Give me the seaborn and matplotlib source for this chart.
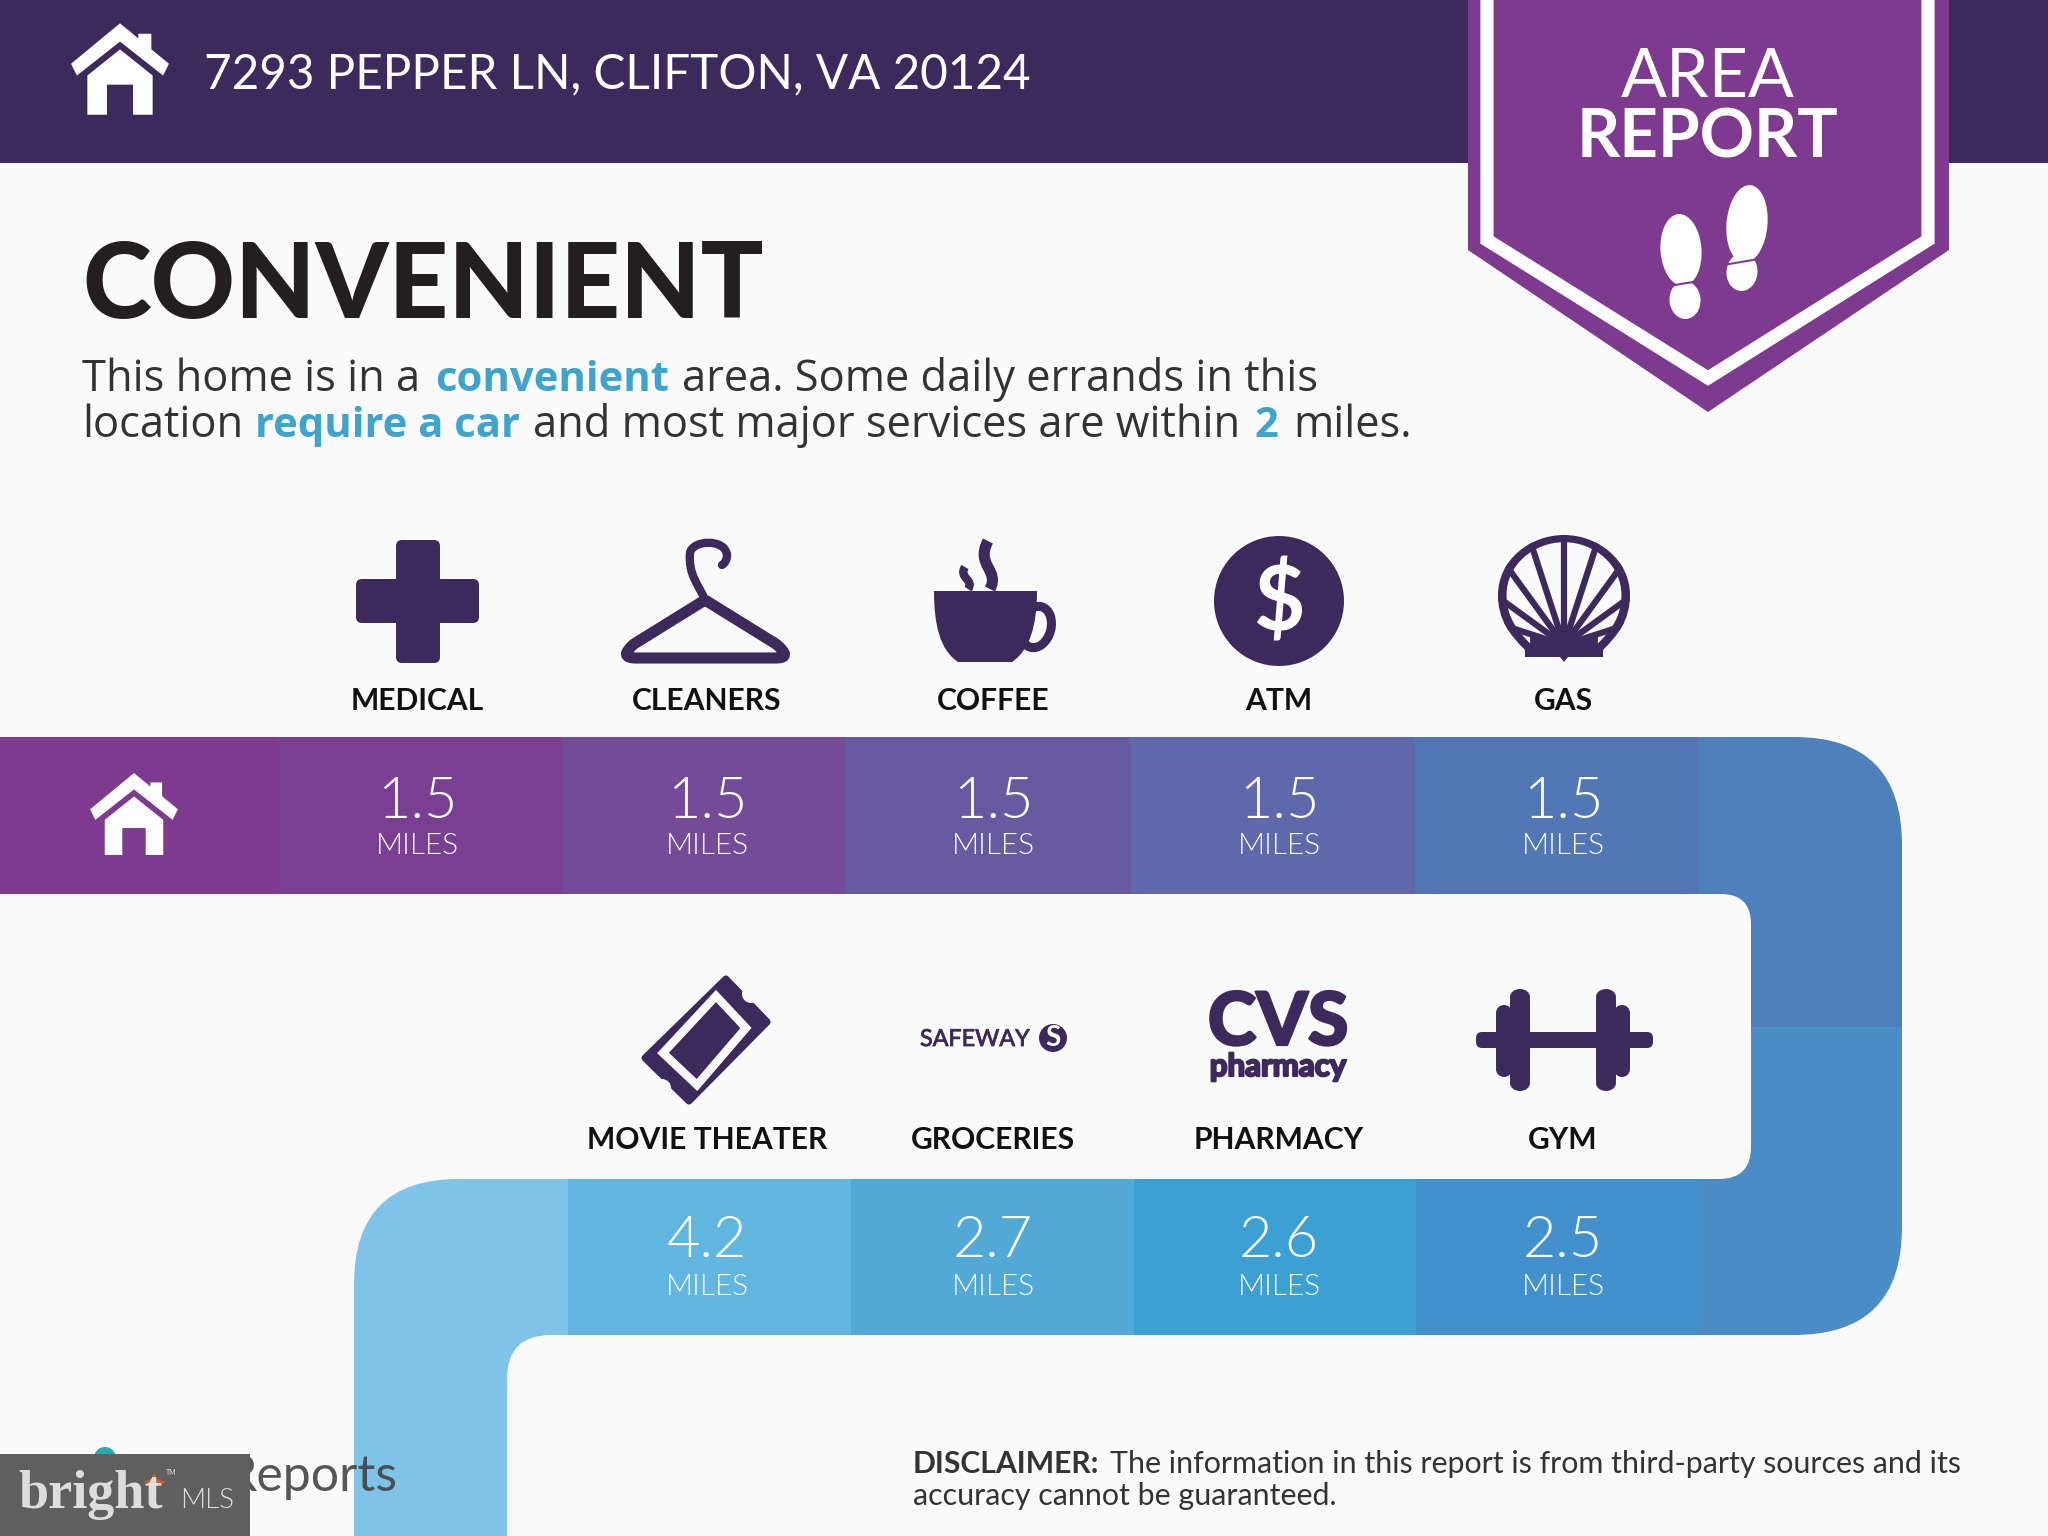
import numpy as np
import matplotlib
matplotlib.use("Agg")
import matplotlib.pyplot as plt
import matplotlib.patheffects as pe
import seaborn as sns
from matplotlib.colors import ListedColormap
from matplotlib.patches import Circle, Ellipse, FancyBboxPatch, PathPatch, Polygon, Rectangle
from matplotlib.path import Path

# --- chart data ---
top_labels = ["MEDICAL", "CLEANERS", "COFFEE", "ATM", "GAS"]
top_miles = [1.5, 1.5, 1.5, 1.5, 1.5]
top_colors = ["#7a3f92", "#744b99", "#675aa1", "#5f68ab", "#5177b5"]

bottom_labels = ["MOVIE THEATER", "GROCERIES", "PHARMACY", "GYM"]
bottom_miles = [4.2, 2.7, 2.6, 2.5]
bottom_colors = ["#61b6e0", "#52a9d6", "#3ca0d2", "#4391cc"]

# --- palette and layout, in reference pixels ---
W, H = 2048, 1536
BG = "#fafafa"
DARK = "#3c2a5c"
PURPLE = "#7d3a8e"
ACCENT = "#3fa4cc"
INK = "#333333"
top_x = [417, 707, 993, 1279, 1563]
bottom_x = [707, 993, 1279, 1563]

sns.set_theme(style="white")
plt.rcParams["font.family"] = ["Lato", "DejaVu Sans"]

fig = plt.figure(figsize=(W / 100, H / 100), dpi=100, facecolor=BG)

# overlay in pixel coordinates, for everything that is not a band cell
ov = fig.add_axes([0, 0, 1, 1], zorder=0)
ov.set_xlim(0, W)
ov.set_ylim(H, 0)
ov.axis("off")


def round_poly(pts, **kw):
    """closed polygon from (x, y, corner radius) tuples"""
    verts, codes = [], []
    for i, (x, y, r) in enumerate(pts):
        p = np.array(pts[i - 1][:2], float)
        n = np.array(pts[(i + 1) % len(pts)][:2], float)
        c = np.array([x, y], float)
        a = c + (p - c) / max(np.linalg.norm(p - c), 1e-6) * r
        b = c + (n - c) / max(np.linalg.norm(n - c), 1e-6) * r
        verts += [a, c, b]
        codes += [Path.MOVETO if i == 0 else Path.LINETO, Path.CURVE3, Path.CURVE3]
    verts.append(verts[0])
    codes.append(Path.CLOSEPOLY)
    patch = PathPatch(Path(verts, codes), lw=0, **kw)
    ov.add_patch(patch)
    return patch


def band(x0, x1, y0, y1, labels_x, miles, colors, value_y):
    ax = fig.add_axes([x0 / W, 1 - y1 / H, (x1 - x0) / W, (y1 - y0) / H], zorder=1)
    n = len(miles)
    sns.heatmap(np.arange(n)[None, :], ax=ax, cmap=ListedColormap(colors), vmin=0, vmax=n - 1,
                cbar=False, xticklabels=False, yticklabels=False,
                annot=np.array(miles)[None, :], fmt=".1f",
                annot_kws={"va": "baseline", "color": "white", "fontsize": 41.5, "fontweight": 300})
    cell = (x1 - x0) / n
    for t, cx in zip(list(ax.texts), labels_x):
        t.set_x((cx - x0) / cell)
        t.set_y(value_y)
        ax.text((cx - x0) / cell, 0.745, "MILES", color="white", fontsize=21.5, fontweight=300,
                ha="center", va="baseline")


def house(cx, cy, s, color="white"):
    def pts(lst):
        return [(cx + x * s, cy + y * s) for x, y in lst]
    ov.add_patch(Polygon(pts([(0, -35), (37.5, -4), (33, 5), (0, -21), (-33, 5), (-37.5, -4)]), color=color, lw=0))
    ov.add_patch(Polygon(pts([(14, -27), (24, -27), (24, -12), (14, -20)]), color=color, lw=0))
    ov.add_patch(Polygon(pts([(0, -15), (25, 5), (25, 35), (10, 35), (10, 12), (-10, 12), (-10, 35), (-25, 35), (-25, 5)]),
                         color=color, lw=0))


# --- header ---
ov.add_patch(Rectangle((0, 0), W, 163, color=DARK, lw=0))
house(120, 69, 1.306)
ov.text(204, 88, "7293 PEPPER LN, CLIFTON, VA 20124", color="white", fontsize=34.3, va="baseline")

# ribbon
ov.add_patch(Polygon([(1468, 0), (1949, 0), (1949, 250), (1708, 412), (1468, 250)], color=PURPLE, lw=0))
ov.plot([1487, 1487, 1708, 1928, 1928], [0, 240, 378, 240, 0], color="white", lw=9.5, solid_joinstyle="miter")
ov.text(1708, 97, "AREA", color="white", fontsize=49, ha="center", va="baseline")
ov.text(1708, 158, "REPORT", color="white", fontsize=48.5, fontweight="bold", ha="center", va="baseline")
# footprints: sole, heel, thin gap between them
for cx, sole_y, sole_h, heel_y, gap_y, tilt in [(1681, 250, 72, 300, 284, -4), (1747, 224, 78, 272, 261, 5)]:
    ov.add_patch(Ellipse((cx, sole_y), 41, sole_h, angle=tilt, color="white", lw=0))
    ov.add_patch(Ellipse((cx + (4 if tilt < 0 else -5), heel_y), 31, 38, angle=tilt, color="white", lw=0))
    ov.plot([cx - 24, cx + 24], [gap_y + 4, gap_y - 4], color=PURPLE, lw=1.5)

# --- headline ---
ov.text(82, 318, "CONVENIENT", color="#231f20", fontsize=75, fontweight="black", va="baseline")
line1 = [(82, "This home is in a", INK, "normal"), (435, "convenient", ACCENT, "bold"),
         (682, "area. Some daily errands in this", INK, "normal")]
line2 = [(82, "location", INK, "normal"), (255, "require a car", ACCENT, "bold"),
         (533, "and most major services are within", INK, "normal"), (1254, "2", ACCENT, "bold"),
         (1293, "miles.", INK, "normal")]
for y, line in [(391, line1), (437, line2)]:
    for x, s, c, w in line:
        ov.text(x, y, s, color=c, fontweight=w, fontsize=30.2 if w == "bold" else 31.3, va="baseline",
                family="Open Sans")

# --- the road: curved blocks behind the band cells ---
round_poly([(1600, 737, 0), (1902, 737, 108), (1902, 1027, 0), (1600, 1027, 0)], color="#4e80bb")
round_poly([(1600, 1027, 0), (1902, 1027, 0), (1902, 1335, 108), (1600, 1335, 0)], color="#4a8cc5")
round_poly([(1600, 894, 0), (1751, 894, 30), (1751, 1179, 32), (1600, 1179, 0)], color=BG)
round_poly([(354, 1179, 105), (600, 1179, 0), (600, 1335, 0), (507, 1335, 44), (507, 1560, 0), (354, 1560, 0)],
           color="#7fc4e8")
ov.add_patch(Rectangle((0, 737), 278, 157, color="#7d3a8e", lw=0))
house(134, 814, 1.17)

band(278, 1699, 737, 894, top_x, top_miles, top_colors, 0.515)
band(568, 1699, 1179, 1335, bottom_x, bottom_miles, bottom_colors, 0.50)

for x, s in zip(top_x, top_labels):
    ov.text(x, 710, s, color="#111111", fontsize=21.6, fontweight="bold", ha="center", va="baseline")
for x, s in zip(bottom_x, bottom_labels):
    ov.text(x, 1149, s, color="#111111", fontsize=21.6, fontweight="bold", ha="center", va="baseline")

# --- icons, top row ---
# cross
ov.add_patch(FancyBboxPatch((399, 543), 38, 117, boxstyle="round,pad=3,rounding_size=6", color=DARK, lw=0))
ov.add_patch(FancyBboxPatch((359, 582), 117, 38, boxstyle="round,pad=3,rounding_size=6", color=DARK, lw=0))

# hanger
hanger = Path([(705, 600), (776, 644), (793, 658), (776, 658), (636, 658), (618, 658), (634, 644), (705, 600)],
              [Path.MOVETO, Path.LINETO, Path.CURVE3, Path.CURVE3, Path.LINETO, Path.CURVE3, Path.CURVE3, Path.LINETO])
ov.add_patch(PathPatch(hanger, fc="none", ec=DARK, lw=8, joinstyle="round"))
hook = Path([(705, 600), (699, 585), (688, 575), (690, 553), (692, 540), (725, 538), (727, 555), (727, 562), (722, 565)],
            [Path.MOVETO, Path.CURVE4, Path.CURVE4, Path.CURVE4, Path.CURVE4, Path.CURVE4, Path.CURVE4, Path.CURVE3, Path.CURVE3])
ov.add_patch(PathPatch(hook, fc="none", ec=DARK, lw=6, capstyle="round"))

# coffee cup
ov.add_patch(Ellipse((1036, 627), 30, 42, angle=15, fc="none", ec=DARK, lw=6.5))
cup = Path([(934, 591), (1037, 591), (1037, 625), (1030, 650), (1012, 662), (958, 662), (940, 650), (934, 625), (934, 591)],
           [Path.MOVETO, Path.LINETO, Path.CURVE4, Path.CURVE4, Path.CURVE4, Path.LINETO, Path.CURVE4, Path.CURVE4, Path.CURVE4])
ov.add_patch(PathPatch(cup, fc=DARK, lw=0))
steam1 = Path([(988, 541), (975, 565), (1000, 570), (990, 589)], [Path.MOVETO, Path.CURVE4, Path.CURVE4, Path.CURVE4])
steam2 = Path([(965, 567), (958, 578), (975, 580), (968, 589)], [Path.MOVETO, Path.CURVE4, Path.CURVE4, Path.CURVE4])
ov.add_patch(PathPatch(steam1, fc="none", ec=DARK, lw=8))
ov.add_patch(PathPatch(steam2, fc="none", ec=DARK, lw=6))

# atm coin
ov.add_patch(Circle((1279, 601), 65, color=DARK, lw=0))
ov.text(1279, 603, "$", color="white", fontsize=64, fontweight="bold", ha="center", va="center")

# shell
shell_v = [(1525, 650), (1510, 635), (1498, 620), (1498, 595), (1498, 560), (1530, 535), (1564, 535),
           (1598, 535), (1630, 560), (1630, 595), (1630, 620), (1618, 635), (1603, 650),
           (1603, 657), (1568, 657), (1564, 662), (1560, 657), (1525, 657), (1525, 650)]
shell_c = [Path.MOVETO] + [Path.CURVE4] * 12 + [Path.LINETO] * 6
shell = ov.add_patch(PathPatch(Path(shell_v, shell_c), fc=DARK, lw=0))
inner = np.array(shell_v[:13] + [(1603, 642), (1525, 642)], float)
inner = (inner - [1564, 595]) * [0.87, 0.88] + [1564, 595]
ov.add_patch(PathPatch(Path(np.vstack([inner, inner[0]]), shell_c[:13] + [Path.LINETO] * 3), fc=BG, lw=0))
for deg in range(-72, 73, 18):
    th = np.radians(deg)
    ray, = ov.plot([1564, 1564 + 125 * np.sin(th)], [645, 645 - 125 * np.cos(th)], color=DARK, lw=4.5)
    ray.set_clip_path(shell)

# --- icons, bottom row ---
# ticket
round_poly([(726, 974, 4), (772, 1022, 4), (689, 1106, 4), (640, 1058, 4)], color=DARK)
ov.add_patch(Circle((751, 994), 9, color=BG, lw=0))
ov.add_patch(Circle((662, 1088), 9, color=BG, lw=0))
ov.add_patch(Polygon([(716, 996), (746, 1028), (697, 1085), (663, 1053)], fc=DARK, ec=BG, lw=6, joinstyle="miter"))

# safeway
bold_edge = [pe.withStroke(linewidth=1.6, foreground=DARK)]
ov.text(920, 1046, "SAFEWAY", color=DARK, fontsize=16.8, va="baseline", path_effects=[pe.withStroke(linewidth=0.6, foreground=DARK)])
ov.add_patch(Ellipse((1053, 1038), 28, 28, color=DARK, lw=0))
ov.text(1053, 1038, "S", color="white", fontsize=20, fontweight="bold", ha="center", va="center")

# cvs
ov.text(1278, 1045, "CVS", color=DARK, fontsize=53, fontweight="black", ha="center", va="baseline", path_effects=bold_edge)
ov.text(1278, 1076, "pharmacy", color=DARK, fontsize=22.5, fontweight="bold", ha="center", va="baseline", path_effects=bold_edge)

# dumbbell
ov.add_patch(FancyBboxPatch((1478, 1034), 173, 12, boxstyle="round,pad=2,rounding_size=6", color=DARK, lw=0))
for x0, x1, y0, y1 in [(1510, 1530, 989, 1091), (1496, 1512, 1005, 1077), (1596, 1616, 989, 1091), (1614, 1630, 1005, 1077)]:
    ov.add_patch(FancyBboxPatch((x0, y0 + 6), x1 - x0, y1 - y0 - 12, boxstyle="round,pad=0,rounding_size=6",
                                mutation_aspect=1, color=DARK, lw=0))
    ov.add_patch(Ellipse(((x0 + x1) / 2, y0 + 8), x1 - x0, 16, color=DARK, lw=0))
    ov.add_patch(Ellipse(((x0 + x1) / 2, y1 - 8), x1 - x0, 16, color=DARK, lw=0))

# --- footer ---
ov.text(913, 1473, "DISCLAIMER:", color=INK, fontsize=21.7, fontweight="bold", va="baseline")
ov.text(1110, 1473, "The information in this report is from third-party sources and its", color=INK, fontsize=21.9, va="baseline")
ov.text(913, 1505, "accuracy cannot be guaranteed.", color=INK, fontsize=21.9, va="baseline")

ov.add_patch(Circle((105, 1458), 11, color="#2aa9b0", lw=0))
ov.text(397, 1491, "Reports", color="#444444", alpha=0.9, fontsize=36, ha="right", va="baseline")

# watermark
wm = fig.add_axes([0, 0, 1, 1], zorder=2)
wm.set_xlim(0, W)
wm.set_ylim(H, 0)
wm.axis("off")
wm.patch.set_alpha(0)
wm.add_patch(Rectangle((0, 1454), 250, 82, color="#5f5f5f", lw=0))
wm.text(18, 1508, "bright", color="#dddddd", fontsize=39, fontweight="bold", family="Liberation Serif", va="baseline")
wm.text(180, 1508, "MLS", color="#dddddd", fontsize=20, fontweight=300, va="baseline")
wm.text(166, 1475, "TM", color="#dddddd", fontsize=5, va="baseline")
wm.add_patch(Polygon([(154, 1473), (157, 1479), (166, 1482), (157, 1485), (154, 1491), (151, 1485), (144, 1482), (151, 1479)],
                     color="#d8572a", lw=0))

fig.savefig("out.png", dpi=100, facecolor=BG)
